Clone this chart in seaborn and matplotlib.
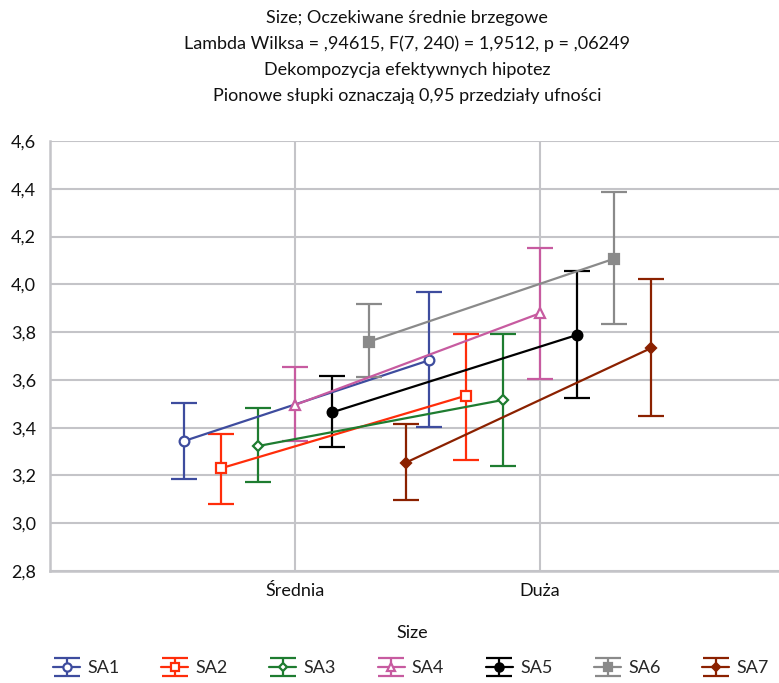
import numpy as np
import pandas as pd
import matplotlib
matplotlib.use("Agg")
import matplotlib.pyplot as plt
import seaborn as sns
from matplotlib.legend_handler import HandlerTuple
from matplotlib.lines import Line2D

# ---- data ----
categories = ["Średnia", "Duża"]
series = ["SA1", "SA2", "SA3", "SA4", "SA5", "SA6", "SA7"]
mean_srednia = [3.344, 3.230, 3.323, 3.495, 3.464, 3.760, 3.254]
lo_srednia = [3.185, 3.080, 3.174, 3.345, 3.318, 3.612, 3.096]
hi_srednia = [3.502, 3.375, 3.481, 3.653, 3.616, 3.919, 3.415]
mean_duza = [3.682, 3.534, 3.516, 3.879, 3.788, 4.107, 3.733]
lo_duza = [3.403, 3.266, 3.241, 3.604, 3.523, 3.835, 3.449]
hi_duza = [3.968, 3.792, 3.792, 4.153, 4.056, 4.386, 4.021]
yticks = [2.8, 3.0, 3.2, 3.4, 3.6, 3.8, 4.0, 4.2, 4.4, 4.6]
ytick_labels = ["2,8", "3,0", "3,2", "3,4", "3,6", "3,8", "4,0", "4,2", "4,4", "4,6"]
title_lines = [
    "Size; Oczekiwane średnie brzegowe",
    "Lambda Wilksa = ,94615, F(7, 240) = 1,9512, p = ,06249",
    "Dekompozycja efektywnych hipotez",
    "Pionowe słupki oznaczają 0,95 przedziały ufności",
]

# ---- styles ----
colors = ["#3E4C9E", "#FF2D0A", "#1E7C30", "#C75BA0", "#000000", "#8A8A8A", "#8B2100"]
markers = ["o", "s", "D", "^", "o", "s", "D"]
msizes = [7.0, 6.5, 5.0, 7.5, 7.0, 6.5, 5.0]
filled = [False, False, False, False, True, True, True]
grid_col = "#C4C4C8"

rows = []
for i, s in enumerate(series):
    rows.append(dict(Series=s, Size=categories[0], Mean=mean_srednia[i],
                     Lo=lo_srednia[i], Hi=hi_srednia[i]))
    rows.append(dict(Series=s, Size=categories[1], Mean=mean_duza[i],
                     Lo=lo_duza[i], Hi=hi_duza[i]))
df = pd.DataFrame(rows)
step = 0.151
df["pos"] = df["Size"].map({c: k for k, c in enumerate(categories)}) + \
    df["Series"].map({s: (k - 3) * step for k, s in enumerate(series)})

sns.set_style("white")
plt.rcParams["font.family"] = ["Lato", "DejaVu Sans"]

fig = plt.figure(figsize=(7.79, 6.83), dpi=100)
ax = fig.add_axes([50 / 779, 1 - 571 / 683, 735 / 779, 430 / 683])

handles = []
for i, s in enumerate(series):
    sub = df[df["Series"] == s]
    c = colors[i]
    sns.lineplot(data=sub, x="pos", y="Mean", ax=ax, color=c, lw=1.6,
                 marker=markers[i], markersize=msizes[i],
                 markeredgecolor=c, markeredgewidth=1.6,
                 markerfacecolor=(c if filled[i] else "white"),
                 errorbar=None, legend=False, zorder=3 + i * 0.1)
    eb = ax.errorbar(sub["pos"], sub["Mean"],
                     yerr=[sub["Mean"] - sub["Lo"], sub["Hi"] - sub["Mean"]],
                     fmt="none", ecolor=c, elinewidth=1.6, capsize=9.5,
                     capthick=1.6, zorder=2.5 + i * 0.1)
    proxy = Line2D([], [], color=c, lw=1.6, marker=markers[i],
                   markersize=msizes[i] * 0.85, markeredgecolor=c, markeredgewidth=1.6,
                   markerfacecolor=(c if filled[i] else "white"))
    handles.append((eb, proxy))

ax.set_xlim(-1, 2)
ax.set_ylim(2.8, 4.6)
ax.set_xticks([0, 1])
ax.set_xticklabels(categories, fontsize=13)
ax.set_yticks(yticks)
ax.set_yticklabels(ytick_labels, fontsize=13)
ax.tick_params(axis="both", length=0, pad=10, colors="#111111")
ax.tick_params(axis="x", pad=9)
ax.grid(True, color=grid_col, lw=1.5)
ax.set_axisbelow(True)
for sp in ["top", "right"]:
    ax.spines[sp].set_visible(False)
for sp in ["left", "bottom"]:
    ax.spines[sp].set_color(grid_col)
    ax.spines[sp].set_linewidth(1.8)
ax.set_xlabel("Size", fontsize=13, labelpad=12, color="#111111")
ax.set_ylabel("")
ax.xaxis.set_label_coords((412 - 50) / 735, -0.125)

for k, t in enumerate(title_lines):
    fig.text(407 / 779, 1 - (18 + 26 * k) / 683, t, ha="center", va="center",
             fontsize=13, color="#111111")

fig.legend(handles, series, handler_map={tuple: HandlerTuple(ndivide=1)},
           loc="center left", bbox_to_anchor=(46 / 779, 1 - 668 / 683), ncol=7,
           frameon=False, fontsize=13, handlelength=1.5, handletextpad=0.4,
           columnspacing=2.3, borderaxespad=0)

fig.savefig("out.png", dpi=100)
